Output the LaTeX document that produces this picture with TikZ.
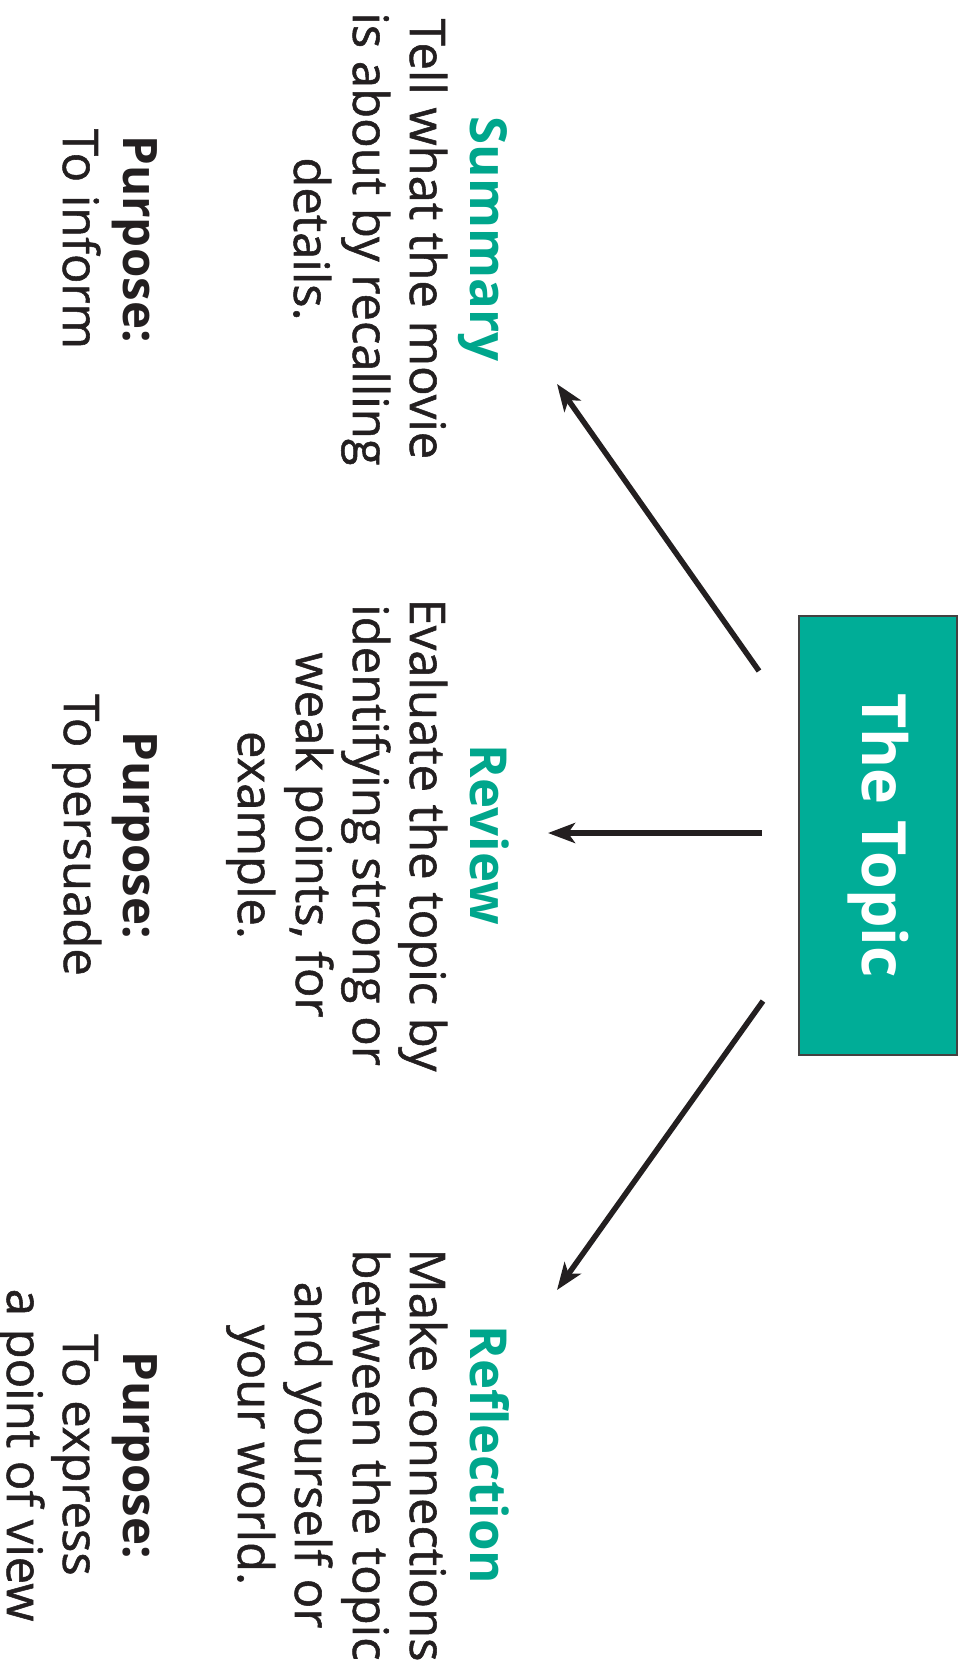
\documentclass[tikz,border=0pt]{standalone}
\usepackage{fontspec}
\setmainfont{Open Sans}
\newfontfamily\bodyfont[FakeBold=1.1]{Open Sans}
\usetikzlibrary{arrows.meta}
\definecolor{ink}{HTML}{231F20}
\definecolor{topicfill}{HTML}{00AD97}
\definecolor{headgreen}{HTML}{00A68C}
\begin{document}
\begin{tikzpicture}[x=1pt,y=-1pt,
  txt/.style={rotate=-90, anchor=base, inner sep=0pt, text=ink,
    font=\bodyfont\fontsize{49}{57}\selectfont},
  head/.style={txt, text=headgreen, font=\fontsize{51}{60}\selectfont\bfseries},
  purp/.style={txt, font=\fontsize{47.5}{57}\selectfont\bfseries},
  link/.style={draw=ink, line width=5.5pt, -{Stealth[length=27pt,width=20pt,inset=7pt]}},
  topicbox/.style={rotate=-90, draw=ink!85, line width=1.5pt, fill=topicfill,
    minimum width=439pt, minimum height=158pt, inner sep=0pt, text=white,
    font=\fontsize{61}{70}\selectfont\bfseries}]
  \useasboundingbox (0,0) rectangle (967,1665);

  % central box
  \node[topicbox] (topic) at (878,835.5) {The Topic};

  % Summary column
  \node[head] (sumhead) at (470,239) {Summary};
  \node[txt]  (sum1) at (410,239) {Tell what the movie};
  \node[txt]  (sum2) at (353,239) {is about by recalling};
  \node[txt]  (sum3) at (294,239) {details.};
  \node[purp] (sumpurp) at (123,239) {Purpose:};
  \node[txt]  (sum4) at (63,239) {To inform};

  % Review column
  \node[head] (revhead) at (470,835) {Review};
  \node[txt]  (rev1) at (410,835) {Evaluate the topic by};
  \node[txt]  (rev2) at (353,835) {identifying strong or};
  \node[txt]  (rev3) at (296,835) {weak points, for};
  \node[txt]  (rev4) at (238,835) {example.};
  \node[purp] (revpurp) at (123,835) {Purpose:};
  \node[txt]  (rev5) at (64,835) {To persuade};

  % Reflection column
  \node[head] (refhead) at (470,1455) {Reflection};
  \node[txt]  (ref1) at (410,1455) {Make connections};
  \node[txt]  (ref2) at (353,1455) {between the topic};
  \node[txt]  (ref3) at (295,1455) {and yourself or};
  \node[txt]  (ref4) at (238,1455) {your world.};
  \node[purp] (refpurp) at (123,1455) {Purpose:};
  \node[txt]  (ref5) at (63,1455) {To express};
  \node[txt]  (ref6) at (7,1455) {a point of view};

  % arrow ends
  \coordinate (tailA) at (759,671);
  \coordinate (tipA)  at (557,384);
  \coordinate (tailB) at (762,833);
  \coordinate (tipB)  at (548,833);
  \coordinate (tailC) at (763,1001);
  \coordinate (tipC)  at (557,1290);

  \draw[link] (tailA) -- (tipA);
  \draw[link] (tailB) -- (tipB);
  \draw[link] (tailC) -- (tipC);
\end{tikzpicture}
\end{document}
